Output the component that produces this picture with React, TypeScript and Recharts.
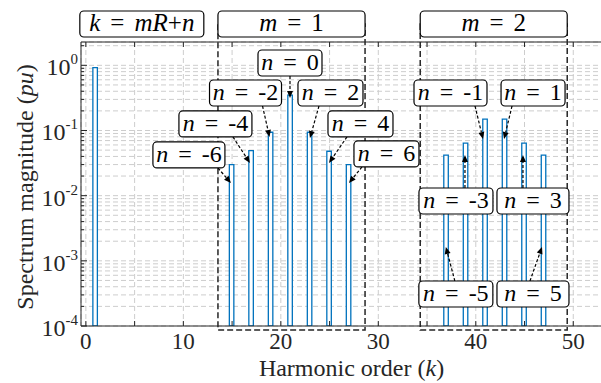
import {
  ComposedChart,
  Bar,
  XAxis,
  YAxis,
  CartesianGrid,
  ReferenceArea,
  ReferenceDot,
} from "recharts";

// harmonic orders and their magnitudes (pu)
const harmonics = [1, 15, 17, 19, 21, 23, 25, 27, 37, 39, 41, 43, 45, 47];
const magnitudes = [
  0.92, 0.03, 0.049, 0.094, 0.35, 0.094, 0.048, 0.03, 0.042, 0.064, 0.149,
  0.149, 0.064, 0.042,
];

const xTicks = [0, 5, 10, 15, 20, 25, 30, 35, 40, 45, 50];
const yMajor = [1e-4, 1e-3, 1e-2, 1e-1, 1];
const yMantissa = [2, 3, 4, 5, 6, 7, 8, 9];

// group boxes (k range) and their titles
const groups = [
  { title: "k=mR+n", x1: -0.62, x2: 12.1, dashed: false },
  { title: "m=1", x1: 13.55, x2: 28.64, dashed: true },
  { title: "m=2", x1: 34.3, x2: 49.38, dashed: true },
];

// callouts: label n, arrow head (k, value), tail offset px, box offset px
const callouts = [
  { n: "0", k: 20.94, v: 0.315, dx: 0, dy: -22, bx: -32, bw: 64 },
  { n: "-2", k: 18.84, v: 0.0795, dx: -7, dy: -31, bx: -53, bw: 72 },
  { n: "2", k: 22.99, v: 0.0767, dx: 9, dy: -32, bx: -21, bw: 65 },
  { n: "-4", k: 16.83, v: 0.0318, dx: -17, dy: -26, bx: -54, bw: 73 },
  { n: "4", k: 24.94, v: 0.0318, dx: 18, dy: -26, bx: -19, bw: 65 },
  { n: "-6", k: 14.88, v: 0.01566, dx: -13, dy: -15, bx: -65, bw: 72 },
  { n: "6", k: 26.99, v: 0.01566, dx: 13, dy: -16, bx: -8, bw: 65 },
  { n: "-1", k: 40.74, v: 0.0741, dx: -8, dy: -33, bx: -61, bw: 73 },
  { n: "1", k: 42.9, v: 0.0741, dx: 8, dy: -33, bx: -11, bw: 64 },
  { n: "-3", k: 38.89, v: 0.0421, dx: 0, dy: 33, bx: -46, bw: 74 },
  { n: "3", k: 44.84, v: 0.0421, dx: 0, dy: 33, bx: -26, bw: 72 },
  { n: "-5", k: 36.93, v: 0.00163, dx: 9, dy: 34, bx: -36, bw: 74 },
  { n: "5", k: 46.79, v: 0.00163, dx: -12, dy: 34, bx: -33, bw: 72 },
];

const data = harmonics.map((k, i) => ({ k, mag: magnitudes[i] }));
const yTicks = yMajor.flatMap((d) =>
  d >= 1 ? [d, 2] : [d, ...yMantissa.map((m) => m * d)]
);

const FONT = "Liberation Serif";
const AXIS = "#262626";
const BLUE = "#0072BD";
const GRID = "#cdcdcd";

const BottomTick = ({ x, y, payload }: any) => (
  <g>
    <line x1={x} x2={x} y1={y} y2={y - 5} stroke={AXIS} />
    {payload.value % 10 === 0 && (
      <text x={x} y={y + 23} textAnchor="middle" fontSize={23} fontFamily={FONT} fill={AXIS}>
        {payload.value}
      </text>
    )}
  </g>
);

const TopTick = ({ x, y }: any) => (
  <line x1={x} x2={x} y1={y} y2={y + 5} stroke={AXIS} />
);

const LeftTick = ({ x, y, payload }: any) => {
  const e = Math.log10(payload.value);
  const major = Math.abs(e - Math.round(e)) < 1e-6;
  return (
    <g>
      <line x1={x} x2={x + (major ? 6 : 3)} y1={y} y2={y} stroke={AXIS} />
      {major && (
        <text x={x - 3} y={y + 10} textAnchor="end" fontSize={24} fontFamily={FONT} fill={AXIS}>
          10
          <tspan dy={-11} fontSize={15}>
            {Math.round(e)}
          </tspan>
        </text>
      )}
    </g>
  );
};

function MathLabel({ s }: { s: string }) {
  // s like "n=-6" or "k=mR+n"
  const [lhs, rhs] = s.split("=");
  const parts = rhs.split("+");
  return (
    <>
      <tspan fontStyle="italic">{lhs}</tspan>
      <tspan dx={10}>=</tspan>
      {parts.map((p, i) => (
        <tspan key={i} dx={i === 0 ? 10 : 0} fontStyle={/[a-zA-Z]/.test(p) ? "italic" : "normal"}>
          {i > 0 ? <tspan fontStyle="normal">+</tspan> : null}
          {p}
        </tspan>
      ))}
    </>
  );
}

const GroupShape = (g: any) => (props: any) => {
  const { x, y, width, height } = props;
  const top = y - 31;
  return (
    <g>
      {g.dashed && (
        <rect
          x={x}
          y={top + 13}
          width={width}
          height={height + 35 - 13}
          fill="none"
          stroke={AXIS}
          strokeWidth={1.5}
          strokeDasharray="6 3"
        />
      )}
      <rect x={x} y={top} width={width} height={26} rx={4} fill="#fff" stroke="#000" strokeWidth={1.2} />
      <text x={x + width / 2} y={top + 20} textAnchor="middle" fontSize={25} fontFamily={FONT} fill="#000">
        <MathLabel s={g.title} />
      </text>
    </g>
  );
};

const CalloutShape = (c: any) => (props: any) => {
  const { cx, cy } = props;
  const tx = cx + c.dx;
  const ty = cy + c.dy;
  const ang = Math.atan2(cy - ty, cx - tx);
  const cs = Math.cos(ang);
  const sn = Math.sin(ang);
  const L = 7;
  const W = 3;
  const bx = cx - L * cs;
  const by = cy - L * sn;
  const boxY = c.dy > 0 ? ty : ty - 26;
  return (
    <g>
      <line x1={tx} y1={ty} x2={bx} y2={by} stroke="#000" strokeWidth={1.2} strokeDasharray="3 2" />
      <polygon
        points={`${cx},${cy} ${bx - W * sn},${by + W * cs} ${bx + W * sn},${by - W * cs}`}
        fill="#000"
      />
      <rect x={tx + c.bx} y={boxY} width={c.bw} height={26} rx={4} fill="#fff" stroke="#000" strokeWidth={1.2} />
      <text x={tx + c.bx + c.bw / 2} y={boxY + 20} textAnchor="middle" fontSize={24} fontFamily={FONT} fill="#000">
        <MathLabel s={`n=${c.n}`} />
      </text>
    </g>
  );
};

export default function App() {
  return (
    <div
      style={{
        position: "absolute",
        left: 0,
        top: 0,
        width: 601,
        height: 383,
        overflow: "hidden",
        background: "#fff",
      }}
    >
      <ComposedChart
        width={622}
        height={383}
        data={data}
        margin={{ top: 0, right: 0, bottom: 0, left: 0 }}
      >
        <CartesianGrid stroke={GRID} strokeDasharray="5 3" />
        <XAxis
          dataKey="k"
          type="number"
          domain={[-0.5, 55]}
          ticks={xTicks}
          interval={0}
          height={57}
          tickSize={0}
          tickMargin={0}
          tickLine={false}
          tick={BottomTick}
          axisLine={{ stroke: AXIS }}
          allowDataOverflow
          label={(p: any) => {
            const vb = p.viewBox;
            return (
              <text x={vb.x + vb.width / 2} y={376} textAnchor="middle" fontSize={24} fontFamily={FONT} fill={AXIS}>
                Harmonic order (<tspan fontStyle="italic">k</tspan>)
              </text>
            );
          }}
        />
        <XAxis
          xAxisId="top"
          orientation="top"
          dataKey="k"
          type="number"
          domain={[-0.5, 55]}
          ticks={xTicks}
          interval={0}
          height={42}
          tickSize={0}
          tickMargin={0}
          tickLine={false}
          tick={TopTick}
          axisLine={{ stroke: AXIS }}
          allowDataOverflow
        />
        <YAxis
          scale="log"
          domain={[1e-4, 2.28]}
          ticks={yTicks}
          interval={0}
          width={81}
          tickSize={0}
          tickMargin={0}
          tickLine={false}
          tick={LeftTick}
          axisLine={{ stroke: AXIS }}
          allowDataOverflow
          label={(p: any) => {
            const vb = p.viewBox;
            const cy = vb.y + vb.height / 2 + 3;
            return (
              <text
                x={33}
                y={cy}
                transform={`rotate(-90, 33, ${cy})`}
                textAnchor="middle"
                fontSize={24}
                fontFamily={FONT}
                fill={AXIS}
              >
                Spectrum magnitude (<tspan fontStyle="italic">pu</tspan>)
              </text>
            );
          }}
        />
        <Bar
          dataKey="mag"
          barSize={4.5}
          fill="#fff"
          stroke={BLUE}
          strokeWidth={1.3}
          isAnimationActive={false}
        />
        {groups.map((g) => (
          <ReferenceArea
            key={g.title}
            x1={g.x1}
            x2={g.x2}
            ifOverflow="visible"
            shape={GroupShape(g)}
          />
        ))}
        {callouts.map((c) => (
          <ReferenceDot
            key={c.n}
            x={c.k}
            y={c.v}
            ifOverflow="visible"
            shape={CalloutShape(c)}
          />
        ))}
      </ComposedChart>
    </div>
  );
}
